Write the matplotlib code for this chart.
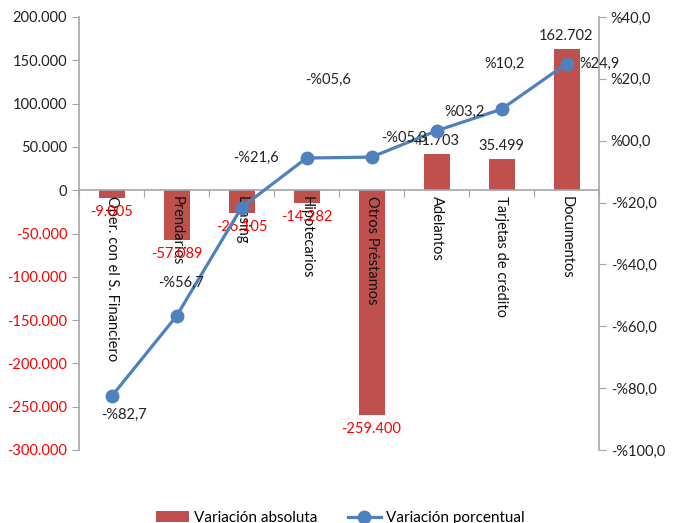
import matplotlib
matplotlib.use("Agg")
import matplotlib.pyplot as plt
from matplotlib.ticker import FuncFormatter

plt.rcParams['font.family'] = ['Lato', 'DejaVu Sans']
plt.rcParams['font.size'] = 9.5

# Datos
categorias = ['Oper. con el S. Financiero', 'Prendarios', 'Leasing', 'Hipotecarios',
              'Otros Préstamos', 'Adelantos', 'Tarjetas de crédito', 'Documentos']
var_absoluta = [-9005, -57089, -26105, -14282, -259400, 41703, 35499, 162702]
var_porcentual = [-82.7, -56.7, -21.6, -5.6, -5.3, 3.2, 10.2, 24.9]

# desplazamiento (px) de cada etiqueta de la linea respecto del punto
offs_pct = [(12, -18), (5, 33), (15, 50), (22, 78), (33, 19), (28, 19), (3, 45), (13, 0)]

rojo = '#C0504D'
azul = '#4F81BD'
gris = '#A6A6A6'


def fmt_miles(v, pos=None):
    return f"{int(v):,}".replace(',', '.')


def fmt_pct(v, pos=None):
    signo = '-' if v < 0 else ''
    return signo + '%' + f"{abs(v):04.1f}".replace('.', ',')


fig = plt.figure(figsize=(6.76, 5.23), dpi=100)
ax = fig.add_axes([79 / 676, 73 / 523, 520 / 676, 433 / 523])
ax2 = ax.twinx()
ax.set_zorder(ax2.get_zorder() - 1)
ax2.patch.set_visible(False)

x = list(range(len(categorias)))
barras = ax.bar(x, var_absoluta, width=0.4, color=rojo, label='Variación absoluta', zorder=2)
ax.set_xlim(-0.5, len(categorias) - 0.5)
ax.set_ylim(-300000, 200000)
ax.set_yticks(range(-300000, 200001, 50000))
ax.yaxis.set_major_formatter(FuncFormatter(fmt_miles))
for lbl, v in zip(ax.get_yticklabels(), ax.get_yticks()):
    lbl.set_color('red' if v < 0 else '#222222')

# eje x sobre el cero con marcas entre categorias
ax.spines['bottom'].set_position(('data', 0))
ax.spines['top'].set_visible(False)
ax.spines['right'].set_visible(False)
for s in ['left', 'bottom']:
    ax.spines[s].set_color(gris)
    ax.spines[s].set_linewidth(1.2)
ax.set_xticks([i - 0.5 for i in range(len(categorias) + 1)])
ax.set_xticklabels([])
ax.tick_params(axis='x', direction='out', length=5, color=gris)
ax.tick_params(axis='y', direction='out', length=5, color=gris, labelsize=10.5)

for i, cat in enumerate(categorias):
    ax.annotate(cat, (i, 0), xytext=(0, -6), textcoords='offset pixels',
                rotation=-90, ha='center', va='top', fontsize=10.5, color='#111111',
                zorder=3)

for i, v in enumerate(var_absoluta):
    if v < 0:
        ax.annotate(fmt_miles(v), (i, v), xytext=(0, -7), textcoords='offset pixels',
                    ha='center', va='top', color='red', fontsize=10.5, zorder=3)
    else:
        ax.annotate(fmt_miles(v), (i, v), xytext=(0, 6), textcoords='offset pixels',
                    ha='center', va='bottom', color='#222222', fontsize=10.5, zorder=3)

# serie porcentual
ax2.plot(x, var_porcentual, color=azul, linewidth=2.3, marker='o', markersize=9,
         label='Variación porcentual', zorder=4)
ax2.set_ylim(-100, 40)
ax2.set_yticks(range(-100, 41, 20))
ax2.yaxis.set_major_formatter(FuncFormatter(fmt_pct))
ax2.spines['top'].set_visible(False)
ax2.spines['left'].set_visible(False)
ax2.spines['bottom'].set_visible(False)
ax2.spines['right'].set_color(gris)
ax2.spines['right'].set_linewidth(1.2)
ax2.tick_params(axis='y', direction='out', length=5, color=gris, labelsize=10.5,
                labelcolor='#222222')

for i, v in enumerate(var_porcentual):
    dx, dy = offs_pct[i]
    ha = 'left' if i == len(var_porcentual) - 1 else 'center'
    ax2.annotate(fmt_pct(v), (i, v), xytext=(dx, dy), textcoords='offset pixels',
                 ha=ha, va='center', fontsize=10.5, color='#222222', zorder=5)

h1, l1 = ax.get_legend_handles_labels()
h2, l2 = ax2.get_legend_handles_labels()
fig.legend(h1 + h2, l1 + l2, loc='center', bbox_to_anchor=(340 / 676, 5 / 523),
           ncol=2, frameon=False, fontsize=11, handlelength=2.2, columnspacing=2.0,
           handletextpad=0.3)

fig.savefig('out.png', dpi=100)
